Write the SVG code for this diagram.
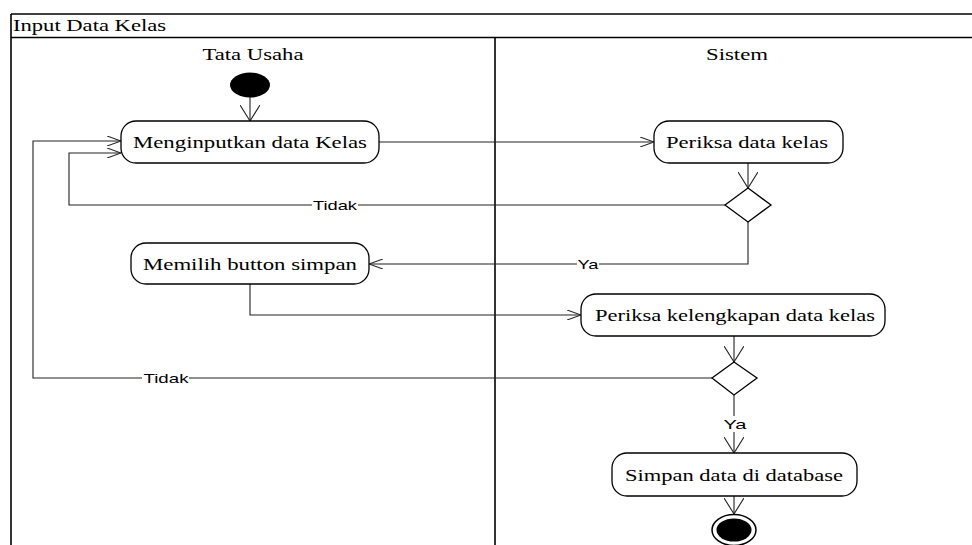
<svg xmlns="http://www.w3.org/2000/svg" width="972" height="545" viewBox="0 0 972 545">
  <style>
    .frame { fill: none; stroke: #000; stroke-width: 1.6; }
    .lane { font-family: "Liberation Serif", "Times New Roman", serif; font-size: 16px; fill: #000; }
    .act { fill: #fff; stroke: #000; stroke-width: 1.3; }
    .actText { font-family: "Liberation Serif", "Times New Roman", serif; font-size: 17px; fill: #000; text-anchor: middle; }
    .flow { fill: none; stroke: #222; stroke-width: 1.1; }
    .guard { font-family: "Liberation Sans", Arial, sans-serif; font-size: 13.5px; fill: #000; text-anchor: middle; }
    .gbg { fill: #fff; }
    .dec { fill: #fff; stroke: #000; stroke-width: 1.3; }
  </style>
  <defs>
    <marker id="arrH" viewBox="0 0 14 10" refX="14" refY="5" markerWidth="14" markerHeight="10" markerUnits="userSpaceOnUse" orient="auto">
      <path d="M0,0 L14,5 L0,10" fill="none" stroke="#222" stroke-width="1.1"/>
    </marker>
    <marker id="arrV" viewBox="0 0 16 20" refX="16" refY="10" markerWidth="16" markerHeight="20" markerUnits="userSpaceOnUse" orient="auto">
      <path d="M0,0 L16,10 L0,20" fill="none" stroke="#222" stroke-width="1.1"/>
    </marker>
  </defs>

  <!-- activity frame and swimlanes -->
  <g id="frame">
    <line class="frame" x1="11" y1="14" x2="972" y2="14"/>
    <line class="frame" x1="11" y1="37.5" x2="972" y2="37.5"/>
    <line class="frame" x1="11" y1="14" x2="11" y2="545"/>
    <line class="frame" x1="495" y1="37.5" x2="495" y2="545" stroke-width="2"/>
    <text class="lane" x="13" y="31" textLength="153" lengthAdjust="spacingAndGlyphs">Input Data Kelas</text>
    <text class="lane" x="253" y="60" text-anchor="middle" textLength="101" lengthAdjust="spacingAndGlyphs">Tata Usaha</text>
    <text class="lane" x="737" y="60" text-anchor="middle" textLength="62" lengthAdjust="spacingAndGlyphs">Sistem</text>
  </g>

  <!-- connectors -->
  <g id="connectors">
    <line class="flow" x1="250" y1="97" x2="250" y2="121" marker-end="url(#arrV)"/>
    <line class="flow" x1="379" y1="142" x2="654" y2="142" marker-end="url(#arrH)"/>
    <line class="flow" x1="748" y1="163" x2="748" y2="188" marker-end="url(#arrV)"/>
    <!-- first check fails: back to input -->
    <polyline class="flow" points="725,205 69,205 69,153 121,153" marker-end="url(#arrH)"/>
    <rect class="gbg" x="312" y="197" width="46" height="16"/>
    <text class="guard" x="335" y="210" textLength="44" lengthAdjust="spacingAndGlyphs">Tidak</text>
    <!-- first check passes -->
    <polyline class="flow" points="748,222 748,264 369,264" marker-end="url(#arrH)"/>
    <rect class="gbg" x="577" y="256" width="22" height="16"/>
    <text class="guard" x="588" y="269" textLength="21" lengthAdjust="spacingAndGlyphs">Ya</text>
    <!-- save button to completeness check -->
    <polyline class="flow" points="250,284 250,315 581,315" marker-end="url(#arrH)"/>
    <line class="flow" x1="734" y1="336" x2="734" y2="362" marker-end="url(#arrV)"/>
    <!-- second check fails -->
    <polyline class="flow" points="712,378 33,378 33,141 121,141" marker-end="url(#arrH)"/>
    <rect class="gbg" x="142" y="370" width="47" height="16"/>
    <text class="guard" x="166" y="383" textLength="45" lengthAdjust="spacingAndGlyphs">Tidak</text>
    <!-- second check passes -->
    <line class="flow" x1="734" y1="395" x2="734" y2="453" marker-end="url(#arrV)"/>
    <rect class="gbg" x="722" y="416" width="25" height="16"/>
    <text class="guard" x="735" y="429" textLength="23" lengthAdjust="spacingAndGlyphs">Ya</text>
    <line class="flow" x1="734" y1="496" x2="734" y2="514" marker-end="url(#arrV)"/>
  </g>

  <g id="start">
    <ellipse cx="250" cy="85" rx="20" ry="12.5" fill="#000"/>
  </g>

  <g id="menginputkan">
    <rect class="act" x="121" y="121" width="258" height="42" rx="15"/>
    <text class="actText" x="250" y="148" textLength="234" lengthAdjust="spacingAndGlyphs">Menginputkan data Kelas</text>
  </g>

  <g id="periksa-data">
    <rect class="act" x="654" y="121" width="189" height="42" rx="15"/>
    <text class="actText" x="747" y="148" textLength="162" lengthAdjust="spacingAndGlyphs">Periksa data kelas</text>
  </g>

  <g id="decision-1">
    <polygon class="dec" points="748,188 771,205 748,222 725,205"/>
  </g>

  <g id="memilih-simpan">
    <rect class="act" x="131" y="243" width="238" height="41" rx="15"/>
    <text class="actText" x="250" y="270" textLength="214" lengthAdjust="spacingAndGlyphs">Memilih button simpan</text>
  </g>

  <g id="periksa-kelengkapan">
    <rect class="act" x="581" y="294" width="304" height="42" rx="15"/>
    <text class="actText" x="735" y="321" textLength="280" lengthAdjust="spacingAndGlyphs">Periksa kelengkapan data kelas</text>
  </g>

  <g id="decision-2">
    <polygon class="dec" points="734,362 757,378 734,395 712,378"/>
  </g>

  <g id="simpan-database">
    <rect class="act" x="612" y="453" width="245" height="43" rx="15"/>
    <text class="actText" x="734" y="481" textLength="218" lengthAdjust="spacingAndGlyphs">Simpan data di database</text>
  </g>

  <g id="end">
    <ellipse cx="734" cy="530" rx="22" ry="15.5" fill="#fff" stroke="#000" stroke-width="1.5"/>
    <ellipse cx="734" cy="530" rx="17.5" ry="11.5" fill="#000"/>
  </g>
</svg>
